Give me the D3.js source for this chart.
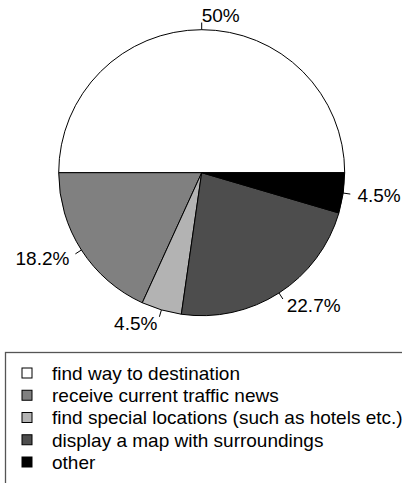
<!DOCTYPE html>
<html><head><meta charset="utf-8">
<script src="https://cdn.jsdelivr.net/npm/d3@7"></script>
<style>body{margin:0;background:#fff;}svg{display:block;font-family:"Liberation Sans",Arial,sans-serif;}</style>
</head><body><svg id="c" width="402" height="483"></svg>
<script>
const categories = ["find way to destination","receive current traffic news","find special locations (such as hotels etc.)","display a map with surroundings","other"];
const counts = [11, 4, 1, 5, 1];
const pctLabels = ["50%","18.2%","4.5%","22.7%","4.5%"];
const colors = ["#ffffff","#808080","#b3b3b3","#4d4d4d","#000000"];

const svg = d3.select("#c");
const cx = 201.7, cy = 172.7, r = 143;
const g = svg.append("g").attr("transform", `translate(${cx},${cy})`);
const data = categories.map((c,i)=>({c, v:counts[i], lab:pctLabels[i], col:colors[i]}));
const pie = d3.pie().value(d=>d.v).sort(null).startAngle(Math.PI/2).endAngle(Math.PI/2 - 2*Math.PI);
const arcs = pie(data);
const arc = d3.arc().innerRadius(0).outerRadius(r);
g.selectAll("path.s").data(arcs).join("path").attr("class","s")
  .attr("d", arc).attr("fill", d=>d.data.col).attr("stroke","#000").attr("stroke-width",1);

arcs.forEach(a=>{
  const mid = (a.startAngle + a.endAngle)/2;
  const ux = Math.sin(mid), uy = -Math.cos(mid);
  g.append("line").attr("x1", ux*r).attr("y1", uy*r).attr("x2", ux*r*1.05).attr("y2", uy*r*1.05)
    .attr("stroke","#000").attr("stroke-width",1);
  g.append("text").attr("x", ux*r*1.1).attr("y", uy*r*1.1).attr("dy","0.36em")
    .attr("text-anchor", ux < -1e-9 ? "end" : "start")
    .attr("font-size", 19).attr("fill","#000").text(a.data.lab);
});

const leg = svg.append("g");
leg.append("rect").attr("x",5.5).attr("y",352.5).attr("width",420).attr("height",160)
  .attr("fill","none").attr("stroke","#555").attr("stroke-width",1.3);
const rowY = d3.scalePoint().domain(categories).range([373, 462]);
categories.forEach((c,i)=>{
  const y = rowY(c);
  leg.append("rect").attr("x",22).attr("y",y-5).attr("width",10).attr("height",10)
    .attr("fill",colors[i]).attr("stroke","#000").attr("stroke-width",1);
  leg.append("text").attr("x",52).attr("y",y).attr("dy","0.36em").attr("font-size",19).attr("fill","#000").text(c);
});
</script></body></html>
